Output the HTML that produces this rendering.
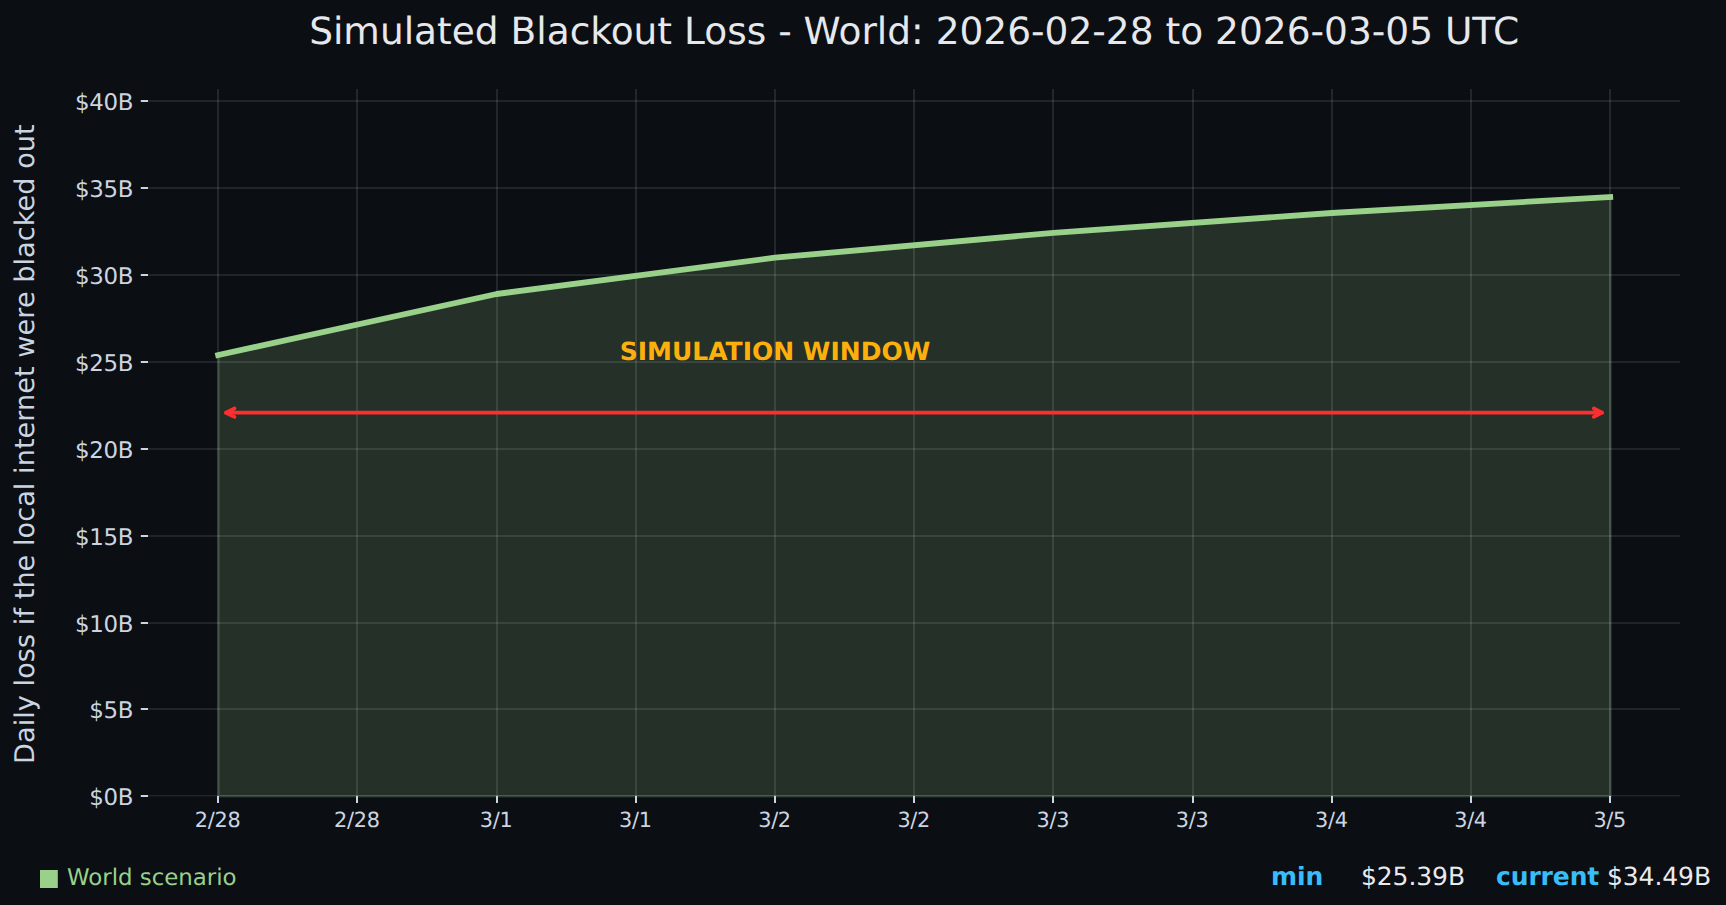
<!DOCTYPE html>
<html lang="en"><head><meta charset="utf-8"><title>Simulated Blackout Loss</title>
<style>
html,body{margin:0;padding:0;background:#0b0e13;}
body{width:1726px;height:905px;overflow:hidden;}
svg{display:block;}
text{font-family:"DejaVu Sans","Liberation Sans",sans-serif;text-rendering:geometricPrecision;}
.tk{font-size:20.83px;fill:#cbd5e1;}
.ty{font-size:22.92px;fill:#cbd5e1;}
</style></head><body>
<svg width="1726" height="905" viewBox="0 0 1726 905">
<rect width="1726" height="905" fill="#0b0e13"/>
<polygon points="218.5,355.1 496.9,294.0 775.3,257.7 1053.7,232.8 1332.1,213.0 1610.5,197.0 1610.5,796.3 218.5,796.3" fill="#99d18b" fill-opacity="0.18" stroke="#99d18b" stroke-opacity="0.18" stroke-width="2.6"/>
<g stroke="#ffffff" stroke-opacity="0.13" stroke-width="1.6" fill="none">
<line x1="218" y1="89" x2="218" y2="796.3"/>
<line x1="357" y1="89" x2="357" y2="796.3"/>
<line x1="497" y1="89" x2="497" y2="796.3"/>
<line x1="636" y1="89" x2="636" y2="796.3"/>
<line x1="775" y1="89" x2="775" y2="796.3"/>
<line x1="914" y1="89" x2="914" y2="796.3"/>
<line x1="1053" y1="89" x2="1053" y2="796.3"/>
<line x1="1193" y1="89" x2="1193" y2="796.3"/>
<line x1="1332" y1="89" x2="1332" y2="796.3"/>
<line x1="1471" y1="89" x2="1471" y2="796.3"/>
<line x1="1610" y1="89" x2="1610" y2="796.3"/>
<line x1="149" y1="709" x2="1680" y2="709"/>
<line x1="149" y1="623" x2="1680" y2="623"/>
<line x1="149" y1="536" x2="1680" y2="536"/>
<line x1="149" y1="449" x2="1680" y2="449"/>
<line x1="149" y1="362" x2="1680" y2="362"/>
<line x1="149" y1="275" x2="1680" y2="275"/>
<line x1="149" y1="188" x2="1680" y2="188"/>
<line x1="149" y1="101" x2="1680" y2="101"/>
<line x1="149" y1="795.73" x2="1680" y2="795.73" stroke-width="1.13"/>
</g>
<g stroke="#cbd5e1" stroke-width="2" fill="none">
<line x1="218" y1="796" x2="218" y2="803.1"/>
<line x1="357" y1="796" x2="357" y2="803.1"/>
<line x1="497" y1="796" x2="497" y2="803.1"/>
<line x1="636" y1="796" x2="636" y2="803.1"/>
<line x1="775" y1="796" x2="775" y2="803.1"/>
<line x1="914" y1="796" x2="914" y2="803.1"/>
<line x1="1053" y1="796" x2="1053" y2="803.1"/>
<line x1="1193" y1="796" x2="1193" y2="803.1"/>
<line x1="1332" y1="796" x2="1332" y2="803.1"/>
<line x1="1471" y1="796" x2="1471" y2="803.1"/>
<line x1="1610" y1="796" x2="1610" y2="803.1"/>
<line x1="140.8" y1="796" x2="148.1" y2="796"/>
<line x1="140.8" y1="709" x2="148.1" y2="709"/>
<line x1="140.8" y1="623" x2="148.1" y2="623"/>
<line x1="140.8" y1="536" x2="148.1" y2="536"/>
<line x1="140.8" y1="449" x2="148.1" y2="449"/>
<line x1="140.8" y1="362" x2="148.1" y2="362"/>
<line x1="140.8" y1="275" x2="148.1" y2="275"/>
<line x1="140.8" y1="188" x2="148.1" y2="188"/>
<line x1="140.8" y1="101" x2="148.1" y2="101"/>
</g>
<polyline points="218.2,355.1 496.6,294.0 775.0,257.7 1053.4,232.8 1331.8,213.0 1610.2,197.0" fill="none" stroke="#99d18b" stroke-width="5.83" stroke-linejoin="round" stroke-linecap="square"/>
<g stroke="#ff2e2e" stroke-width="3.75" fill="none" stroke-linecap="round" stroke-linejoin="round"><line x1="226" y1="412.7" x2="1602" y2="412.7"/><polyline points="234.5,408.5 226,412.7 234.5,416.9"/><polyline points="1593.8,408.5 1602,412.7 1593.8,416.9"/></g>
<text x="775" y="359.6" text-anchor="middle" font-size="25" font-weight="bold" fill="#fdb00b">SIMULATION WINDOW</text>
<text class="tk" x="217.7" y="826.7" text-anchor="middle" letter-spacing="-0.2">2/28</text>
<text class="tk" x="356.9" y="826.7" text-anchor="middle" letter-spacing="-0.2">2/28</text>
<text class="tk" x="496.1" y="826.7" text-anchor="middle" letter-spacing="-0.3">3/1</text>
<text class="tk" x="635.3" y="826.7" text-anchor="middle" letter-spacing="-0.3">3/1</text>
<text class="tk" x="774.5" y="826.7" text-anchor="middle" letter-spacing="-0.3">3/2</text>
<text class="tk" x="913.7" y="826.7" text-anchor="middle" letter-spacing="-0.3">3/2</text>
<text class="tk" x="1052.9" y="826.7" text-anchor="middle" letter-spacing="-0.3">3/3</text>
<text class="tk" x="1192.1" y="826.7" text-anchor="middle" letter-spacing="-0.3">3/3</text>
<text class="tk" x="1331.3" y="826.7" text-anchor="middle" letter-spacing="-0.3">3/4</text>
<text class="tk" x="1470.5" y="826.7" text-anchor="middle" letter-spacing="-0.3">3/4</text>
<text class="tk" x="1609.7" y="826.7" text-anchor="middle" letter-spacing="-0.3">3/5</text>
<text class="ty" x="133.2" y="805" text-anchor="end" letter-spacing="-0.33">$0B</text>
<text class="ty" x="133.2" y="718" text-anchor="end" letter-spacing="-0.33">$5B</text>
<text class="ty" x="133.2" y="632" text-anchor="end" letter-spacing="-0.33">$10B</text>
<text class="ty" x="133.2" y="545" text-anchor="end" letter-spacing="-0.33">$15B</text>
<text class="ty" x="133.2" y="458" text-anchor="end" letter-spacing="-0.33">$20B</text>
<text class="ty" x="133.2" y="371" text-anchor="end" letter-spacing="-0.33">$25B</text>
<text class="ty" x="133.2" y="284" text-anchor="end" letter-spacing="-0.33">$30B</text>
<text class="ty" x="133.2" y="197" text-anchor="end" letter-spacing="-0.33">$35B</text>
<text class="ty" x="133.2" y="110" text-anchor="end" letter-spacing="-0.33">$40B</text>
<text x="914.2" y="44" text-anchor="middle" font-size="37.5" fill="#e6e8ec">Simulated Blackout Loss - World: 2026-02-28 to 2026-03-05 UTC</text>
<text transform="translate(34.2,444.1) rotate(-90)" text-anchor="middle" font-size="27.08" letter-spacing="0.065" fill="#cbd5e1">Daily loss if the local internet were blacked out</text>
<rect x="40" y="870" width="17.8" height="18" fill="#99d18b"/>
<text x="67" y="885" font-size="22.92" letter-spacing="-0.03" fill="#99d18b">World scenario</text>
<text x="1271" y="885" font-size="25" font-weight="bold" letter-spacing="-0.12" fill="#38bdf8">min</text>
<text x="1361" y="885" font-size="25" letter-spacing="-0.1" fill="#e8eaed">$25.39B</text>
<text x="1496" y="885" font-size="25" font-weight="bold" letter-spacing="-0.12" fill="#38bdf8">current</text>
<text x="1607" y="885" font-size="25" letter-spacing="-0.1" fill="#e8eaed">$34.49B</text>
</svg></body></html>
